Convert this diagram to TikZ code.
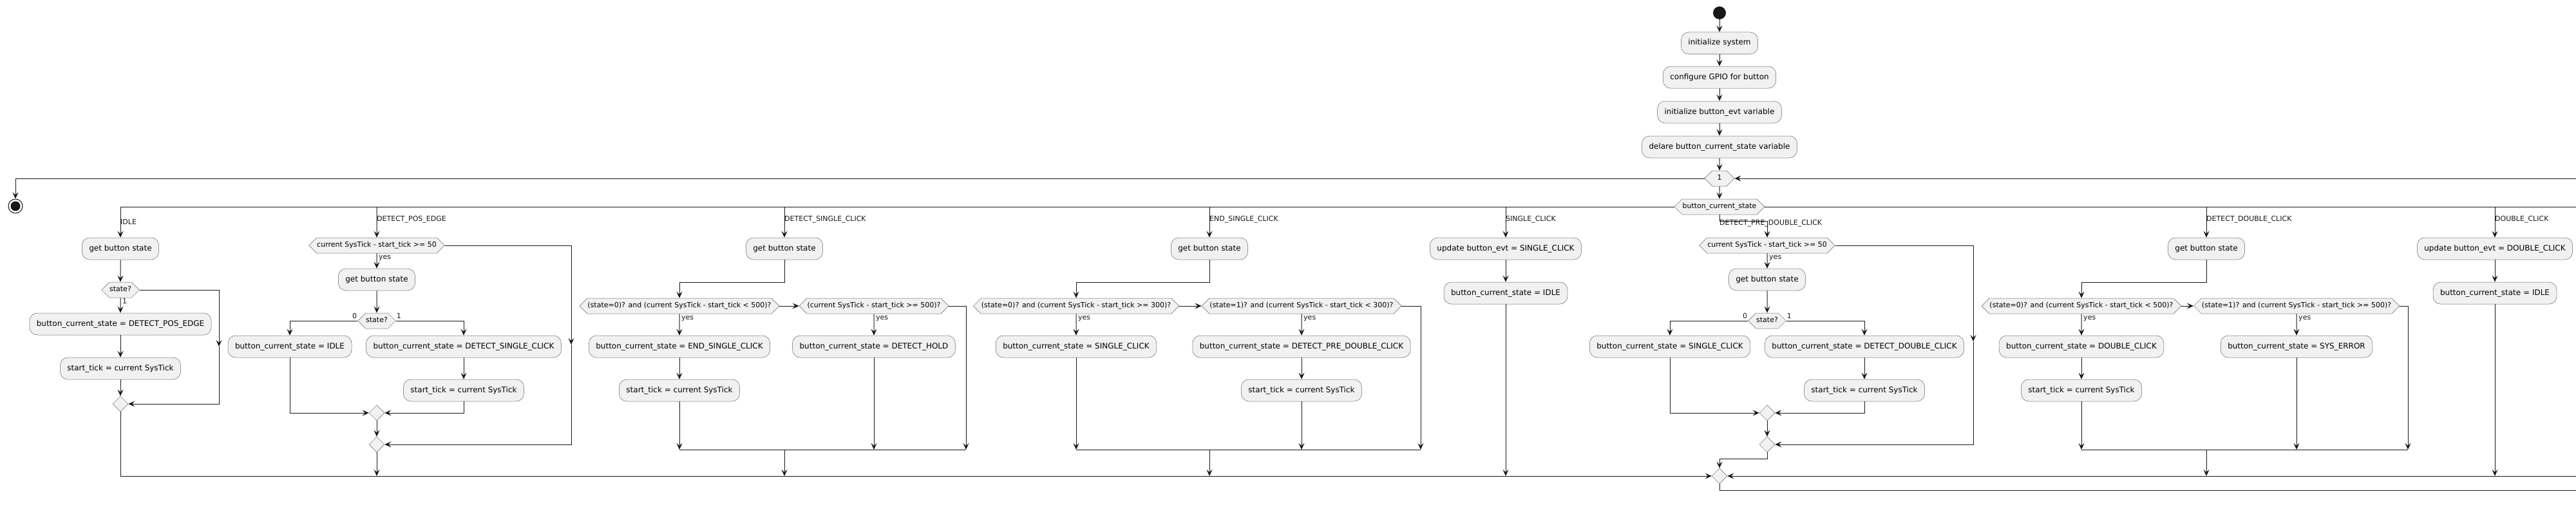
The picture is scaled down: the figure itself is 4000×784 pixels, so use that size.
\documentclass[tikz,border=0pt]{standalone}
\usepackage{fontspec}
\setmainfont{DejaVu Sans}
\usepackage{tikz}
\usetikzlibrary{arrows.meta,shapes.geometric,shapes.symbols}
\definecolor{actfill}{RGB}{241,241,241}
\definecolor{edgec}{RGB}{24,24,24}
\tikzset{
  act/.style={rectangle,rounded corners=12pt,draw=black!60,line width=0.5pt,fill=actfill,font=\fontsize{12}{14}\selectfont,minimum height=34pt,inner xsep=11pt,inner ysep=0pt,text height=9pt,text depth=3pt},
  cond/.style={signal,signal to=east and west,signal pointer angle=90,draw=black!60,line width=0.5pt,fill=actfill,font=\fontsize{11}{13}\selectfont,minimum height=24pt,inner xsep=0.5pt,inner ysep=0pt,text height=8pt,text depth=2.5pt},
  mrg/.style={diamond,draw=black!60,line width=0.5pt,fill=actfill,minimum size=24pt,inner sep=0pt},
  flow/.style={-{Stealth[length=10pt,width=9pt,inset=4pt]},line width=1pt,edgec},
  wire/.style={line width=1pt,edgec},
  lbl/.style={font=\fontsize{11}{13}\selectfont,inner sep=1pt,text height=8pt,text depth=2pt,text=edgec},
}

\begin{document}
\begin{tikzpicture}[x=1pt,y=-1pt]
  \useasboundingbox (0,0) rectangle (4000,784);
  % start, init chain, while loop and switch
  \node[circle,fill=edgec,minimum size=20pt,inner sep=0pt] (start) at (2670,20) {};
  \node[act] (init) at (2670,67) {initialize system};
  \node[act] (gpio) at (2670,120) {configure GPIO for button};
  \node[act] (evtv) at (2670,174) {initialize button\_evt variable};
  \node[act] (decl) at (2670,228) {delare button\_current\_state variable};
  \node[cond,minimum width=46pt] (loop) at (2670,277) {1};
  \node[cond] (sw) at (2670,321) {button\_current\_state};
  \node[circle,draw=edgec,line width=1pt,fill=white,minimum size=22pt,inner sep=0pt,
        path picture={\fill[edgec] (path picture bounding box.center) circle (7.5pt);}] (stop) at (24,320) {};
  \draw[flow](start)--(init); \draw[flow](init)--(gpio); \draw[flow](gpio)--(evtv);
  \draw[flow](evtv)--(decl); \draw[flow](decl)--(loop); \draw[flow](loop)--(sw);
  \draw[flow](loop.west) -| (stop);
  \coordinate (retTop) at (4000,277); \draw[flow](retTop)--(loop.east);
  \coordinate (swL) at (187,321); \coordinate (swR) at (4000,321);
  \draw[wire](sw.west)--(swL); \draw[wire](sw.east)--(swR);
  \node[mrg] (mEnd) at (2670,739) {};

  % IDLE
  \node[act] (a_idle_get) at (187,386) {get button state};
  \node[cond] (c_idle_st) at (187,450) {state?};
  \node[act] (a_idle_set) at (187,503) {button\_current\_state = DETECT\_POS\_EDGE};
  \node[act] (a_idle_tick) at (187,572) {start\_tick = current SysTick};
  \node[mrg] (m_idle) at (187,627) {};
  \node[lbl,anchor=west] (l_idle) at (186,345) {IDLE};
  \node[lbl,anchor=north west] (o_idle) at ([xshift=2pt]c_idle_st.south) {1};
  \coordinate (idle_b1) at (340,538);
  \draw[flow](swL)--(a_idle_get); \draw[flow](a_idle_get)--(c_idle_st); \draw[flow](c_idle_st)--(a_idle_set);
  \draw[flow](a_idle_set)--(a_idle_tick); \draw[flow](a_idle_tick)--(m_idle);
  \draw[flow](c_idle_st.east) -| (idle_b1); \draw[flow](idle_b1) |- (m_idle.east);
  \draw[flow](m_idle) |- (mEnd.west);

  % DETECT_POS_EDGE
  \coordinate (s_pe) at (585,321);
  \node[cond] (c_pe_tick) at (585,381) {current SysTick - start\_tick >= 50};
  \node[act] (a_pe_get) at (585,434) {get button state};
  \node[cond] (c_pe_st) at (585,498) {state?};
  \node[act] (a_pe_idle) at (450,538) {button\_current\_state = IDLE};
  \node[act] (a_pe_dsc) at (720,538) {button\_current\_state = DETECT\_SINGLE\_CLICK};
  \node[act] (a_pe_tick) at (720,606) {start\_tick = current SysTick};
  \node[mrg] (m_pe1) at (585,641) {}; \node[mrg] (m_pe2) at (585,690) {};
  \node[lbl,anchor=west] (l_pe) at (584,340) {DETECT\_POS\_EDGE};
  \node[lbl,anchor=north west] (y_pe) at ([xshift=2pt]c_pe_tick.south) {yes};
  \node[lbl,anchor=south east] (z_pe) at (c_pe_st.west) {0};
  \node[lbl,anchor=south west] (o_pe) at (c_pe_st.east) {1};
  \coordinate (pe_b1) at (887,535); \coordinate (pe_end) at (585,739);
  \draw[flow](s_pe)--(c_pe_tick); \draw[flow](c_pe_tick)--(a_pe_get); \draw[flow](a_pe_get)--(c_pe_st);
  \draw[flow](c_pe_st.west) -| (a_pe_idle); \draw[flow](c_pe_st.east) -| (a_pe_dsc);
  \draw[flow](a_pe_dsc)--(a_pe_tick);
  \draw[flow](a_pe_idle) |- (m_pe1.west); \draw[flow](a_pe_tick) |- (m_pe1.east);
  \draw[flow](m_pe1)--(m_pe2);
  \draw[flow](c_pe_tick.east) -| (pe_b1); \draw[flow](pe_b1) |- (m_pe2.east);
  \draw[flow](m_pe2)--(pe_end);

  % DETECT_SINGLE_CLICK
  \coordinate (s_sc) at (1218,321); \coordinate (sc_k) at (1218,438);
  \node[act] (a_sc_get) at (1218,386) {get button state};
  \node[cond] (c_sc_a) at (1055,475) {(state=0)? and (current SysTick - start\_tick < 500)?};
  \node[cond] (c_sc_b) at (1357,475) {(current SysTick - start\_tick >= 500)?};
  \node[act] (a_sc_end) at (1055,538) {button\_current\_state = END\_SINGLE\_CLICK};
  \node[act] (a_sc_tick) at (1055,606) {start\_tick = current SysTick};
  \node[act] (a_sc_hold) at (1357,538) {button\_current\_state = DETECT\_HOLD};
  \node[lbl,anchor=west] (l_sc) at (1217,340) {DETECT\_SINGLE\_CLICK};
  \node[lbl,anchor=north west] (y_sca) at ([xshift=2pt]c_sc_a.south) {yes};
  \node[lbl,anchor=north west] (y_scb) at ([xshift=2pt]c_sc_b.south) {yes};
  \coordinate (sc_j1) at (1055,698); \coordinate (sc_j2) at (1357,698); \coordinate (sc_j3) at (1500,698);
  \coordinate (sc_out) at (1218,698); \coordinate (sc_end) at (1218,739);
  \draw[flow](s_sc)--(a_sc_get); \draw[flow](a_sc_get)--(sc_k) -| (c_sc_a);
  \draw[flow](c_sc_a.east)--(c_sc_b.west);
  \draw[flow](c_sc_a)--(a_sc_end); \draw[flow](a_sc_end)--(a_sc_tick); \draw[flow](c_sc_b)--(a_sc_hold);
  \draw[flow](a_sc_tick)--(sc_j1); \draw[flow](a_sc_hold)--(sc_j2); \draw[flow](c_sc_b.east) -| (sc_j3);
  \draw[wire](sc_j1)--(sc_j3); \draw[flow](sc_out)--(sc_end);

  % END_SINGLE_CLICK
  \coordinate (s_es) at (1878,321); \coordinate (es_k) at (1878,438);
  \node[act] (a_es_get) at (1878,386) {get button state};
  \node[cond] (c_es_a) at (1671,475) {(state=0)? and (current SysTick - start\_tick >= 300)?};
  \node[cond] (c_es_b) at (2021,475) {(state=1)? and (current SysTick - start\_tick < 300)?};
  \node[act] (a_es_single) at (1671,538) {button\_current\_state = SINGLE\_CLICK};
  \node[act] (a_es_pre) at (2021,538) {button\_current\_state = DETECT\_PRE\_DOUBLE\_CLICK};
  \node[act] (a_es_tick) at (2021,606) {start\_tick = current SysTick};
  \node[lbl,anchor=west] (l_es) at (1877,340) {END\_SINGLE\_CLICK};
  \node[lbl,anchor=north west] (y_esa) at ([xshift=2pt]c_es_a.south) {yes};
  \node[lbl,anchor=north west] (y_esb) at ([xshift=2pt]c_es_b.south) {yes};
  \coordinate (es_j1) at (1671,698); \coordinate (es_j2) at (2021,698); \coordinate (es_j3) at (2206,698);
  \coordinate (es_out) at (1878,698); \coordinate (es_end) at (1878,739);
  \draw[flow](s_es)--(a_es_get); \draw[flow](a_es_get)--(es_k) -| (c_es_a);
  \draw[flow](c_es_a.east)--(c_es_b.west);
  \draw[flow](c_es_a)--(a_es_single); \draw[flow](c_es_b)--(a_es_pre); \draw[flow](a_es_pre)--(a_es_tick);
  \draw[flow](a_es_single)--(es_j1); \draw[flow](a_es_tick)--(es_j2); \draw[flow](c_es_b.east) -| (es_j3);
  \draw[wire](es_j1)--(es_j3); \draw[flow](es_out)--(es_end);

  % SINGLE_CLICK
  \coordinate (s_sk) at (2338,321); \coordinate (sk_end) at (2338,739);
  \node[act] (a_sk_evt) at (2338,386) {update button\_evt = SINGLE\_CLICK};
  \node[act] (a_sk_idle) at (2338,455) {button\_current\_state = IDLE};
  \node[lbl,anchor=west] (l_sk) at (2337,340) {SINGLE\_CLICK};
  \draw[flow](s_sk)--(a_sk_evt); \draw[flow](a_sk_evt)--(a_sk_idle); \draw[flow](a_sk_idle)--(sk_end);

  % DETECT_PRE_DOUBLE_CLICK
  \coordinate (pd_k1) at (2670,343); \coordinate (pd_k2) at (2744,712);
  \node[cond] (c_pd_tick) at (2744,381) {current SysTick - start\_tick >= 50};
  \node[act] (a_pd_get) at (2744,434) {get button state};
  \node[cond] (c_pd_st) at (2744,498) {state?};
  \node[act] (a_pd_single) at (2593,538) {button\_current\_state = SINGLE\_CLICK};
  \node[act] (a_pd_dbl) at (2895,538) {button\_current\_state = DETECT\_DOUBLE\_CLICK};
  \node[act] (a_pd_tick) at (2895,606) {start\_tick = current SysTick};
  \node[mrg] (m_pd1) at (2744,641) {}; \node[mrg] (m_pd2) at (2744,690) {};
  \node[lbl,anchor=west] (l_pd) at (2669,346) {DETECT\_PRE\_DOUBLE\_CLICK};
  \node[lbl,anchor=north west] (y_pd) at ([xshift=2pt]c_pd_tick.south) {yes};
  \node[lbl,anchor=south east] (z_pd) at (c_pd_st.west) {0};
  \node[lbl,anchor=south west] (o_pd) at (c_pd_st.east) {1};
  \coordinate (pd_b1) at (3064,530);
  \draw[flow](sw)--(pd_k1) -| (c_pd_tick); \draw[flow](c_pd_tick)--(a_pd_get); \draw[flow](a_pd_get)--(c_pd_st);
  \draw[flow](c_pd_st.west) -| (a_pd_single); \draw[flow](c_pd_st.east) -| (a_pd_dbl);
  \draw[flow](a_pd_dbl)--(a_pd_tick);
  \draw[flow](a_pd_single) |- (m_pd1.west); \draw[flow](a_pd_tick) |- (m_pd1.east);
  \draw[flow](m_pd1)--(m_pd2);
  \draw[flow](c_pd_tick.east) -| (pd_b1); \draw[flow](pd_b1) |- (m_pd2.east);
  \draw[flow](m_pd2)--(pd_k2) -| (mEnd);

  % DETECT_DOUBLE_CLICK
  \coordinate (s_dd) at (3426,321); \coordinate (dd_k) at (3426,438);
  \node[act] (a_dd_get) at (3426,386) {get button state};
  \node[cond] (c_dd_a) at (3232,475) {(state=0)? and (current SysTick - start\_tick < 500)?};
  \node[cond] (c_dd_b) at (3566,475) {(state=1)? and (current SysTick - start\_tick >= 500)?};
  \node[act] (a_dd_dbl) at (3232,538) {button\_current\_state = DOUBLE\_CLICK};
  \node[act] (a_dd_tick) at (3232,606) {start\_tick = current SysTick};
  \node[act] (a_dd_err) at (3566,538) {button\_current\_state = SYS\_ERROR};
  \node[lbl,anchor=west] (l_dd) at (3425,340) {DETECT\_DOUBLE\_CLICK};
  \node[lbl,anchor=north west] (y_dda) at ([xshift=2pt]c_dd_a.south) {yes};
  \node[lbl,anchor=north west] (y_ddb) at ([xshift=2pt]c_dd_b.south) {yes};
  \coordinate (dd_j1) at (3232,698); \coordinate (dd_j2) at (3566,698); \coordinate (dd_j3) at (3739,698);
  \coordinate (dd_out) at (3426,698); \coordinate (dd_end) at (3426,739);
  \draw[flow](s_dd)--(a_dd_get); \draw[flow](a_dd_get)--(dd_k) -| (c_dd_a);
  \draw[flow](c_dd_a.east)--(c_dd_b.west);
  \draw[flow](c_dd_a)--(a_dd_dbl); \draw[flow](a_dd_dbl)--(a_dd_tick); \draw[flow](c_dd_b)--(a_dd_err);
  \draw[flow](a_dd_tick)--(dd_j1); \draw[flow](a_dd_err)--(dd_j2); \draw[flow](c_dd_b.east) -| (dd_j3);
  \draw[wire](dd_j1)--(dd_j3); \draw[flow](dd_out)--(dd_end);

  % DOUBLE_CLICK
  \coordinate (s_dk) at (3874,321); \coordinate (dk_end) at (3874,739);
  \node[act] (a_dk_evt) at (3874,386) {update button\_evt = DOUBLE\_CLICK};
  \node[act] (a_dk_idle) at (3874,455) {button\_current\_state = IDLE};
  \node[lbl,anchor=west] (l_dk) at (3873,340) {DOUBLE\_CLICK};
  \draw[flow](s_dk)--(a_dk_evt); \draw[flow](a_dk_evt)--(a_dk_idle); \draw[flow](a_dk_idle)--(dk_end);

  % end of switch, back to loop
  \coordinate (botR) at (4000,739); \coordinate (retBot) at (4000,761);
  \draw[flow](botR)--(mEnd.east);
  \draw[wire](mEnd) |- (retBot);
\end{tikzpicture}
\end{document}
